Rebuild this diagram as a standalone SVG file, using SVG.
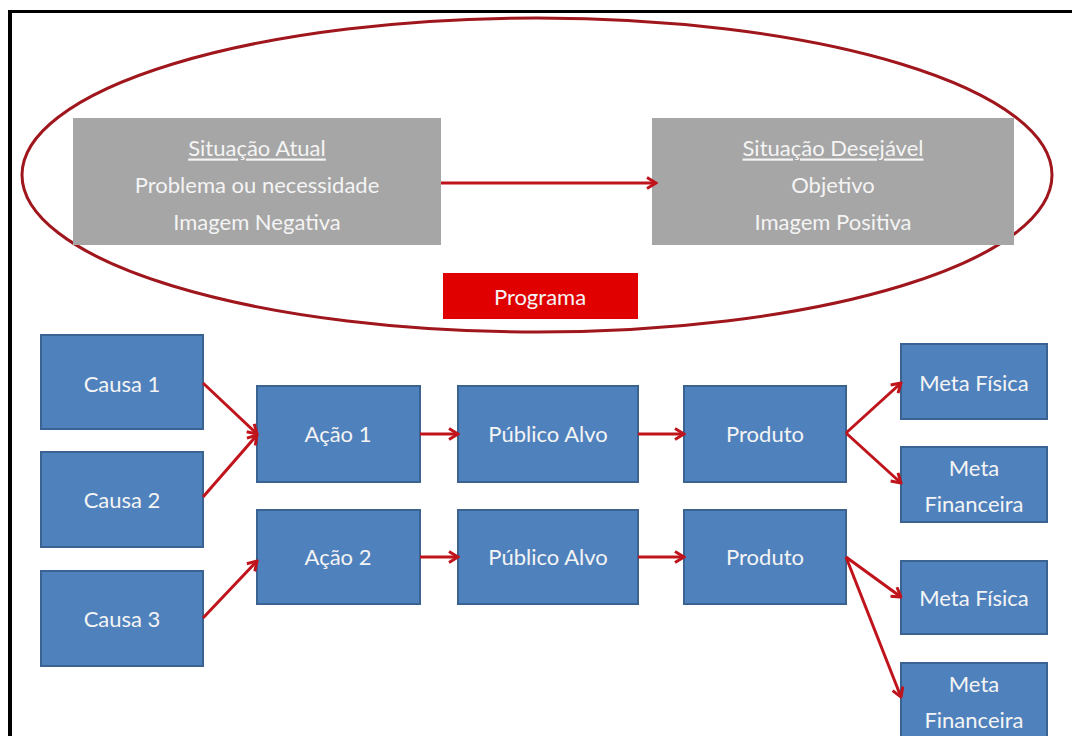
<svg xmlns="http://www.w3.org/2000/svg" width="1072" height="736" viewBox="0 0 1072 736">
<defs>
<marker id="ah" viewBox="0 0 14 14" refX="12.5" refY="7" markerWidth="14" markerHeight="14" markerUnits="userSpaceOnUse" orient="auto">
<path d="M3.5,1.5 L12.5,7 L3.5,12.5" fill="none" stroke="#c0141c" stroke-width="3" stroke-linejoin="miter"/>
</marker>
<style>
.blue rect{fill:#4f81bd;stroke:#3a6391;stroke-width:2}
.gray rect{fill:#a6a6a6}
text{font-family:Lato,"Open Sans","Liberation Sans",sans-serif;font-size:22px;fill:#f4f4f4;text-anchor:middle;dominant-baseline:central}
.con line{stroke:#c0141c;stroke-width:3;marker-end:url(#ah)}
</style>
</defs>
<rect width="1072" height="736" fill="#ffffff"/>
<g id="frame" fill="#000">
<rect x="8" y="10" width="1064" height="3"/>
<rect x="8" y="10" width="4" height="726"/>
</g>
<ellipse id="ellipse" cx="537" cy="175" rx="515" ry="157" fill="none" stroke="#a0161d" stroke-width="3"/>
<g id="atual" class="gray">
<rect x="73" y="118" width="368" height="127"/>
<text x="257" y="147" text-decoration="underline">Situação Atual</text>
<text x="257" y="184">Problema ou necessidade</text>
<text x="257" y="221">Imagem Negativa</text>
</g>
<g id="desejavel" class="gray">
<rect x="652" y="118" width="362" height="127"/>
<text x="833" y="147" text-decoration="underline">Situação Desejável</text>
<text x="833" y="184">Objetivo</text>
<text x="833" y="221">Imagem Positiva</text>
</g>
<g id="programa">
<rect x="443" y="273" width="195" height="46" fill="#e00000"/>
<text x="540" y="296">Programa</text>
</g>
<g id="causa1" class="blue"><rect x="41" y="335" width="162" height="94"/><text x="122" y="383">Causa 1</text></g>
<g id="causa2" class="blue"><rect x="41" y="452" width="162" height="95"/><text x="122" y="499">Causa 2</text></g>
<g id="causa3" class="blue"><rect x="41" y="571" width="162" height="95"/><text x="122" y="618">Causa 3</text></g>
<g id="acao1" class="blue"><rect x="257" y="386" width="163" height="96"/><text x="338" y="433">Ação 1</text></g>
<g id="acao2" class="blue"><rect x="257" y="510" width="163" height="94"/><text x="338" y="556">Ação 2</text></g>
<g id="publico1" class="blue"><rect x="458" y="386" width="180" height="96"/><text x="548" y="433">Público Alvo</text></g>
<g id="publico2" class="blue"><rect x="458" y="510" width="180" height="94"/><text x="548" y="556">Público Alvo</text></g>
<g id="produto1" class="blue"><rect x="684" y="386" width="162" height="96"/><text x="765" y="433">Produto</text></g>
<g id="produto2" class="blue"><rect x="684" y="510" width="162" height="94"/><text x="765" y="556">Produto</text></g>
<g id="metafisica1" class="blue"><rect x="901" y="344" width="146" height="75"/><text x="974" y="382">Meta Física</text></g>
<g id="metafin1" class="blue"><rect x="901" y="447" width="146" height="75"/><text x="974" y="467">Meta</text><text x="974" y="503">Financeira</text></g>
<g id="metafisica2" class="blue"><rect x="901" y="561" width="146" height="73"/><text x="974" y="597">Meta Física</text></g>
<g id="metafin2" class="blue"><rect x="901" y="663" width="146" height="80"/><text x="974" y="683">Meta</text><text x="974" y="719">Financeira</text></g>
<g id="connectors" class="con">
<line x1="441" y1="183" x2="656" y2="183"/>
<line x1="203" y1="383" x2="257" y2="434"/>
<line x1="203" y1="497" x2="257" y2="435"/>
<line x1="203" y1="618" x2="257" y2="561"/>
<line x1="420" y1="434" x2="458" y2="434"/>
<line x1="420" y1="557" x2="458" y2="557"/>
<line x1="638" y1="434" x2="684" y2="434"/>
<line x1="638" y1="557" x2="684" y2="557"/>
<line x1="846" y1="433" x2="901" y2="383"/>
<line x1="846" y1="433" x2="901" y2="483"/>
<line x1="846" y1="557" x2="901" y2="597"/>
<line x1="846" y1="557" x2="901" y2="697"/>
</g>
</svg>
